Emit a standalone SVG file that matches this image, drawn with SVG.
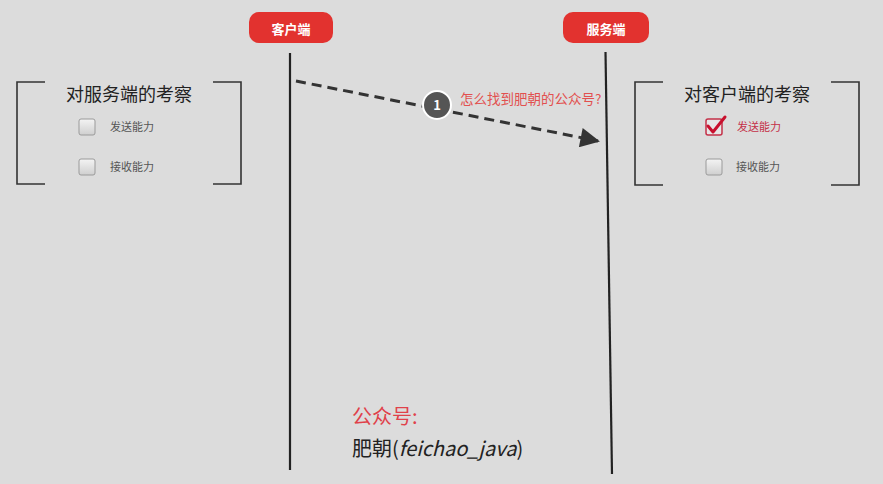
<svg xmlns="http://www.w3.org/2000/svg" width="883" height="484" viewBox="0 0 883 484">
<defs>
<style>
.pill{fill:#e2322f}
.pt{font-family:"Noto Sans CJK SC",sans-serif;font-size:13px;font-weight:bold;fill:#fff;text-anchor:middle}
.life{stroke:#222;stroke-width:2.2;fill:none}
.br{stroke:#333;stroke-width:1.6;fill:none}
.title{font-family:"Noto Sans CJK SC",sans-serif;font-size:18px;fill:#222;text-anchor:middle}
.cb{fill:url(#cbg);stroke:#9a9a9a;stroke-width:1}
.ct{font-family:"Noto Sans CJK SC",sans-serif;font-size:11px;fill:#555}
.red{fill:#c43048}
</style>
<linearGradient id="cbg" x1="0" y1="0" x2="0" y2="1">
<stop offset="0" stop-color="#f4f4f4"/>
<stop offset="1" stop-color="#cfcfcf"/>
</linearGradient>
<marker id="ah" viewBox="0 0 10 10" refX="9" refY="5" markerWidth="8" markerHeight="6.5" markerUnits="strokeWidth" orient="auto">
<path d="M0,0 L10,5 L0,10 z" fill="#333"/>
</marker>
</defs>
<rect width="883" height="484" fill="#dcdcdc"/>
<g id="client">
<rect class="pill" x="249" y="12" width="84" height="31" rx="10"/>
<text class="pt" x="291" y="33.5">客户端</text>
</g>
<g id="server">
<rect class="pill" x="563" y="12" width="86" height="31" rx="10"/>
<text class="pt" x="606" y="33.5">服务端</text>
</g>
<g id="connectors">
<line class="life" x1="290" y1="53" x2="290" y2="470"/>
<line class="life" x1="605.5" y1="52" x2="612" y2="474"/>
<line x1="296" y1="81" x2="598" y2="141" stroke="#333" stroke-width="3" stroke-dasharray="10,6" marker-end="url(#ah)"/>
</g>
<g id="step1">
<circle cx="437" cy="105" r="14" fill="#555" stroke="#fff" stroke-width="2"/>
<text x="437" y="110" font-family="Noto Sans CJK SC,sans-serif" font-size="13" font-weight="bold" fill="#fff" text-anchor="middle">1</text>
<text x="460" y="104" font-family="Noto Sans CJK SC,sans-serif" font-size="13.5" fill="#e2504f">怎么找到肥朝的公众号?</text>
</g>
<g id="server-check">
<path class="br" d="M45,82 H17 V184 H45 M213,82 H241 V184 H213"/>
<text class="title" x="129" y="101">对服务端的考察</text>
<rect class="cb" x="79" y="119" width="16" height="16" rx="2"/>
<text class="ct" x="110" y="131">发送能力</text>
<rect class="cb" x="79" y="159" width="16" height="16" rx="2"/>
<text class="ct" x="110" y="171">接收能力</text>
</g>
<g id="client-check">
<path class="br" d="M663,82 H635 V185 H663 M831,82 H859 V185 H831"/>
<text class="title" x="747" y="101">对客户端的考察</text>
<rect x="706" y="119" width="16" height="16" rx="2" fill="#e6e6e6" stroke="#c43048" stroke-width="1.5"/>
<path d="M708,126 L713,132 L725,117" fill="none" stroke="#c8102e" stroke-width="3" stroke-linecap="round" stroke-linejoin="round"/>
<text class="ct red" x="737" y="131">发送能力</text>
<rect class="cb" x="706" y="159" width="16" height="16" rx="2"/>
<text class="ct" x="736" y="171">接收能力</text>
</g>
<g id="footer">
<text x="352" y="424" font-family="Noto Sans CJK SC,sans-serif" font-size="20" fill="#e0414a">公众号:</text>
<text x="352" y="456" font-family="Noto Sans CJK SC,sans-serif" font-size="20" fill="#222">肥朝(<tspan font-style="italic">feichao_java</tspan>)</text>
</g>
</svg>
